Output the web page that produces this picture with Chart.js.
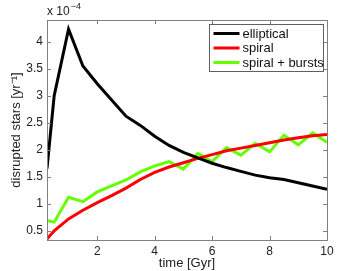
<!DOCTYPE html>
<html>
<head>
<meta charset="utf-8">
<script src="https://cdn.jsdelivr.net/npm/chart.js@4.4.1/dist/chart.umd.min.js"></script>
<style>
html,body{margin:0;padding:0;background:#fff;}
#wrap{width:361px;height:271px;}
</style>
</head>
<body>
<div id="wrap"><canvas id="c" width="361" height="271"></canvas></div>
<script>
const times = [0.25,0.5,1,1.5,2,2.5,3,3.5,4,4.5,5,5.5,6,6.5,7,7.5,8,8.5,9,9.5,10];
const elliptical = [1.65,3.0,4.23,3.55,3.22,2.92,2.62,2.45,2.25,2.08,1.95,1.85,1.75,1.67,1.60,1.53,1.48,1.45,1.39,1.33,1.27];
const spiral = [0.35,0.5,0.72,0.88,1.02,1.15,1.29,1.45,1.58,1.68,1.76,1.84,1.91,1.98,2.03,2.08,2.13,2.18,2.22,2.26,2.28];
const spiralBursts = [0.69,0.66,1.12,1.04,1.22,1.33,1.44,1.59,1.70,1.78,1.64,1.93,1.78,2.04,1.90,2.12,1.96,2.27,2.09,2.31,2.14];
const xTicks = [2,4,6,8,10];
const yTicks = [0.5,1,1.5,2,2.5,3,3.5,4];
const seriesLabels = ['elliptical','spiral','spiral + bursts'];
const seriesColors = ['#000000','#ff0000','#66ff00'];

const FONT = 'Liberation Sans, Arial, Helvetica, sans-serif';
const AXIS_COLOR = '#808080';

function pts(ys){ return times.map((t,i)=>({x:t,y:ys[i]})); }

const boxPlugin = {
  id:'boxPlugin',
  afterDraw(chart){
    const ctx = chart.ctx, a = chart.chartArea;
    const xs = chart.scales.x, ys = chart.scales.y;
    ctx.save();
    ctx.strokeStyle = AXIS_COLOR;
    ctx.lineWidth = 1;
    ctx.strokeRect(Math.round(a.left)+0.5, Math.round(a.top)+0.5, Math.round(a.right-a.left), Math.round(a.bottom-a.top));
    ctx.beginPath();
    const tl = 4;
    xTicks.forEach(v=>{
      const px = Math.round(xs.getPixelForValue(v))+0.5;
      ctx.moveTo(px, a.bottom); ctx.lineTo(px, a.bottom-tl);
      ctx.moveTo(px, a.top); ctx.lineTo(px, a.top+tl);
    });
    yTicks.forEach(v=>{
      const py = Math.round(ys.getPixelForValue(v))+0.5;
      ctx.moveTo(a.left, py); ctx.lineTo(a.left+tl, py);
      ctx.moveTo(a.right, py); ctx.lineTo(a.right-tl, py);
    });
    ctx.stroke();

    // exponent label
    ctx.fillStyle = '#222';
    ctx.textBaseline = 'alphabetic';
    ctx.textAlign = 'left';
    ctx.font = '12px ' + FONT;
    ctx.fillText('x 10', a.left, 15);
    const w = ctx.measureText('x 10').width;
    ctx.font = '9px ' + FONT;
    ctx.fillText('\u22124', a.left + w + 1, 9);

    // legend
    const lx = 209.5, ly = 24.5, lw = 114, lh = 47;
    ctx.fillStyle = '#fff';
    ctx.fillRect(lx, ly, lw, lh);
    ctx.strokeStyle = '#606060';
    ctx.strokeRect(lx, ly, lw, lh);
    ctx.font = '13px ' + FONT;
    ctx.textBaseline = 'middle';
    chart.data.datasets.forEach((ds,i)=>{
      const yy = ly + 9 + i*14.5;
      ctx.strokeStyle = ds.borderColor;
      ctx.lineWidth = 3;
      ctx.beginPath(); ctx.moveTo(lx+4, yy); ctx.lineTo(lx+30, yy); ctx.stroke();
      ctx.fillStyle = '#111';
      ctx.fillText(ds.label, lx+33, yy+0.5);
    });
    ctx.restore();
  }
};

new Chart(document.getElementById('c'), {
  type:'line',
  data:{
    datasets:[
      {label:seriesLabels[0], data:pts(elliptical), borderColor:seriesColors[0], borderWidth:3, pointRadius:0, tension:0, fill:false},
      {label:seriesLabels[1], data:pts(spiral), borderColor:seriesColors[1], borderWidth:3, pointRadius:0, tension:0, fill:false},
      {label:seriesLabels[2], data:pts(spiralBursts), borderColor:seriesColors[2], borderWidth:3, pointRadius:0, tension:0, fill:false}
    ]
  },
  plugins:[boxPlugin],
  options:{
    responsive:false,
    animation:false,
    layout:{padding:{top:20,right:34,left:0,bottom:0}},
    plugins:{legend:{display:false}, tooltip:{enabled:false}, title:{display:false}},
    scales:{
      x:{
        type:'linear', min:0.25, max:10,
        afterBuildTicks(s){ s.ticks = xTicks.map(v=>({value:v})); },
        afterFit(s){ s.height = 31; },
        grid:{display:false, drawTicks:false},
        border:{display:false},
        ticks:{color:'#222', font:{family:FONT,size:12}, padding:4, maxRotation:0, callback:v=>String(v)},
        title:{display:true, text:'time [Gyr]', color:'#222', font:{family:FONT,size:13}, padding:{top:0,bottom:0}}
      },
      y:{
        type:'linear', min:0.33, max:4.4,
        afterBuildTicks(s){ s.ticks = yTicks.map(v=>({value:v})); },
        afterFit(s){ s.width = 47; },
        grid:{display:false, drawTicks:false},
        border:{display:false},
        ticks:{color:'#222', font:{family:FONT,size:12}, padding:4, callback:v=>String(v)},
        title:{display:true, text:'disrupted stars [yr\u207B\u00B9]', color:'#222', font:{family:FONT,size:13}, padding:{top:9,bottom:0}}
      }
    }
  }
});
</script>
</body>
</html>
